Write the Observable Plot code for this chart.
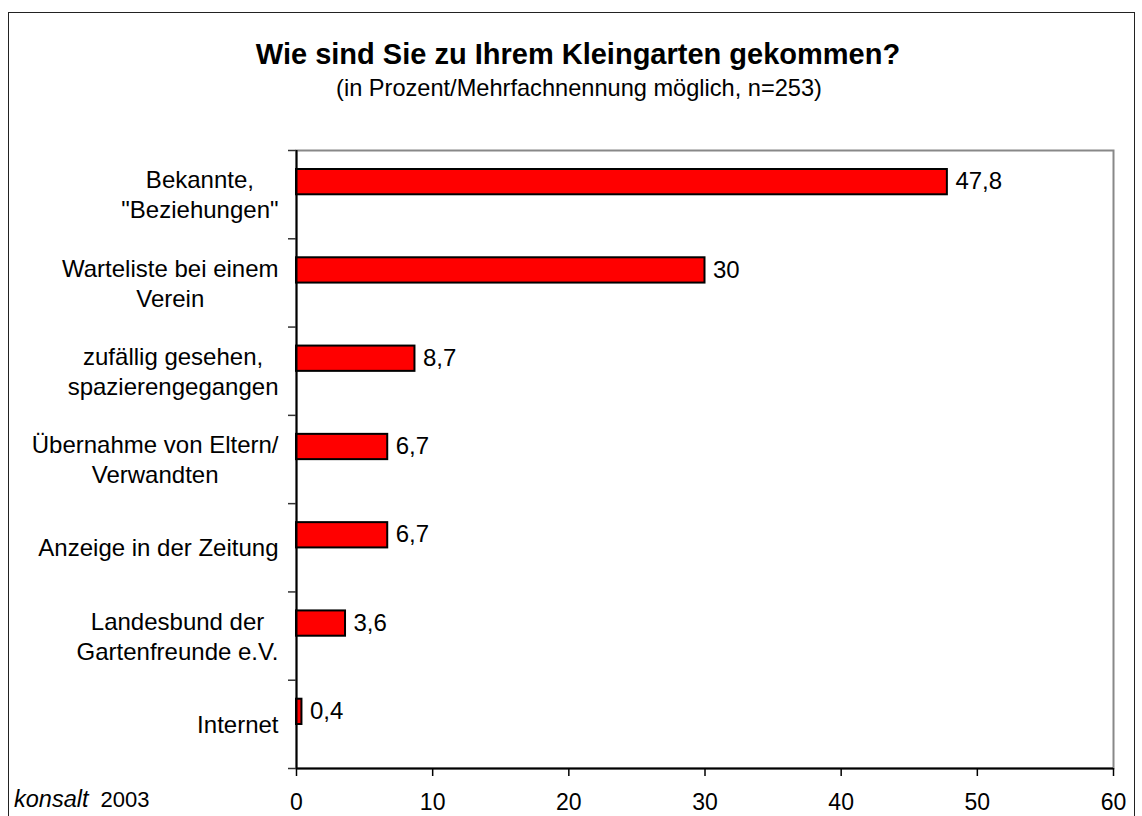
<!DOCTYPE html>
<html><head><meta charset="utf-8">
<script src="https://cdn.jsdelivr.net/npm/d3@7"></script>
<script src="https://cdn.jsdelivr.net/npm/@observablehq/plot@0.6"></script>
<style>
body{margin:0;background:#fff;font-family:"Liberation Sans",Arial,sans-serif;color:#000;}
#wrap{position:relative;width:1142px;height:816px;overflow:hidden;background:#fff;}
#border{position:absolute;left:8px;top:12px;width:1127px;height:840px;border:1px solid #222;box-sizing:border-box;}
#title{position:absolute;left:0;top:39.5px;width:1156px;text-align:center;font-size:29px;font-weight:bold;line-height:29px;white-space:nowrap;}
#subtitle{position:absolute;left:0;top:77px;width:1158px;text-align:center;font-size:23.6px;line-height:23.6px;white-space:nowrap;}
#caption{position:absolute;left:14px;top:788px;font-size:22px;line-height:22px;white-space:nowrap;}
#caption i{font-size:23.5px;margin-right:12px;}
#chart{position:absolute;left:0;top:0;}
</style></head>
<body>
<div id="wrap">
<div id="border"></div>
<div id="chart"></div>
<div id="title">Wie sind Sie zu Ihrem Kleingarten gekommen?</div>
<div id="subtitle">(in Prozent/Mehrfachnennung möglich, n=253)</div>
<div id="caption"><i>konsalt</i>2003</div>
</div>
<script>
const categories = ['Bekannte,\n"Beziehungen"', 'Warteliste bei einem\nVerein', 'zufällig gesehen,\nspazierengegangen', 'Übernahme von Eltern/\nVerwandten', 'Anzeige in der Zeitung', 'Landesbund der\nGartenfreunde e.V.', 'Internet'];
const values = [47.8, 30, 8.7, 6.7, 6.7, 3.6, 0.4];
const xTicks = [0, 10, 20, 30, 40, 50, 60];

const data = categories.map((c, i) => ({c, i, v: values[i]}));
const font = '"Liberation Sans", Arial, sans-serif';
const labelSize = 24;
const ctx = document.createElement("canvas").getContext("2d");
ctx.font = `${labelSize}px "Liberation Sans"`;
const blockWidth = s => Math.max(...s.split("\n").map(l => ctx.measureText(l).width));

const labelMarks = data.map(d => Plot.text([d], {
  x: () => 0, y: e => e.i + 0.5, text: "c",
  dx: -18 - blockWidth(d.c) / 2, dy: -1,
  textAnchor: "middle", lineAnchor: "middle", lineHeight: 1.25,
  fontSize: labelSize, fill: "#000"
}));

const plot = Plot.plot({
  width: 1142, height: 816,
  marginLeft: 296, marginRight: 29, marginTop: 150, marginBottom: 48,
  style: {fontFamily: font, background: "transparent", color: "#000"},
  x: {domain: [0, 60]},
  y: {domain: [7, 0]},
  marks: [
    Plot.frame({stroke: "#888", strokeWidth: 2}),
    Plot.rect(data, {x1: () => 0, x2: "v", y1: "i", y2: d => d.i + 1, insetTop: 19, insetBottom: 44, fill: "#ff0000", stroke: "#000", strokeWidth: 2}),
    Plot.ruleX([0], {stroke: "#000", strokeWidth: 2}),
    Plot.ruleY([7], {stroke: "#000", strokeWidth: 2}),
    Plot.axisX(xTicks, {tickSize: 8, tickPadding: 17, fontSize: 23, stroke: "#000", strokeWidth: 1.5, label: null, tickFormat: d => String(d)}),
    Plot.axisY(d3.range(8), {tickSize: 8, stroke: "#333", strokeWidth: 1.5, tickFormat: () => "", label: null}),
    Plot.text(data, {x: "v", y: d => d.i + 0.5, text: d => String(d.v).replace(".", ","), dx: 8, dy: -13, textAnchor: "start", fontSize: 24, fill: "#000"}),
    ...labelMarks
  ]
});
document.getElementById("chart").appendChild(plot);
</script>
</body></html>
